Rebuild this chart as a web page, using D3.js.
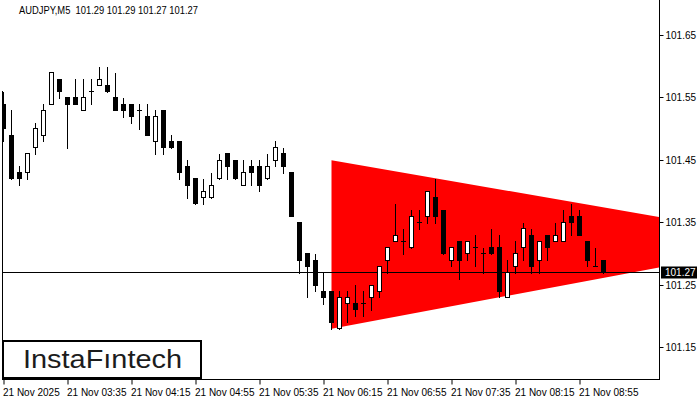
<!DOCTYPE html>
<html>
<head>
<meta charset="utf-8">
<script src="https://cdn.jsdelivr.net/npm/d3@7/dist/d3.min.js"></script>
<style>
  html, body { margin: 0; padding: 0; background: #fff; }
  svg { display: block; }
  text { font-family: "Liberation Sans", Arial, sans-serif; }
</style>
</head>
<body>
<svg id="chart" width="700" height="400"></svg>
<script>
// ---- data ----
const symbolTitle = "AUDJPY,M5  101.29 101.29 101.27 101.27";
const opens = [101.54,101.49,101.43,101.43,101.47,101.49,101.54,101.58,101.55,101.55,
  101.53,101.56,101.57,101.57,101.55,101.54,101.54,101.53,101.52,101.48,
  101.53,101.48,101.48,101.44,101.42,101.39,101.39,101.42,101.46,101.45,
  101.41,101.44,101.44,101.42,101.45,101.46,101.43,101.35,101.30,101.29,
  101.24,101.24,101.18,101.22,101.22,101.22,101.23,101.24,101.29,101.32,
  101.32,101.31,101.35,101.36,101.39,101.37,101.29,101.32,101.30,101.31,
  101.30,101.31,101.31,101.23,101.28,101.31,101.33,101.29,101.33,101.32,
  101.32,101.36,101.36,101.32,101.28,101.29];
const highs = [101.56,101.53,101.44,101.46,101.51,101.54,101.59,101.58,101.55,101.58,
  101.58,101.58,101.60,101.60,101.59,101.55,101.54,101.54,101.54,101.53,
  101.53,101.49,101.48,101.45,101.42,101.42,101.43,101.46,101.46,101.45,
  101.45,101.45,101.45,101.46,101.48,101.47,101.43,101.35,101.30,101.30,
  101.27,101.24,101.24,101.24,101.25,101.24,101.25,101.28,101.31,101.38,
  101.34,101.37,101.37,101.40,101.42,101.37,101.31,101.32,101.32,101.33,
  101.31,101.34,101.33,101.29,101.32,101.35,101.34,101.32,101.33,101.35,
  101.37,101.38,101.37,101.32,101.31,101.29];
const lows = [101.48,101.42,101.41,101.42,101.46,101.48,101.54,101.55,101.47,101.54,
  101.53,101.54,101.57,101.56,101.53,101.52,101.51,101.50,101.49,101.46,
  101.46,101.47,101.42,101.39,101.38,101.38,101.39,101.42,101.42,101.42,
  101.41,101.41,101.40,101.42,101.44,101.43,101.36,101.27,101.23,101.24,
  101.22,101.18,101.18,101.19,101.20,101.20,101.21,101.23,101.27,101.32,
  101.30,101.31,101.34,101.35,101.35,101.30,101.28,101.26,101.29,101.28,
  101.27,101.30,101.23,101.23,101.27,101.29,101.27,101.27,101.29,101.32,
  101.32,101.33,101.33,101.28,101.28,101.27];
const closes = [101.50,101.42,101.42,101.46,101.50,101.53,101.59,101.56,101.54,101.54,
  101.55,101.56,101.58,101.56,101.53,101.53,101.52,101.53,101.49,101.52,
  101.47,101.47,101.43,101.41,101.38,101.40,101.41,101.45,101.44,101.42,
  101.43,101.43,101.41,101.44,101.47,101.44,101.36,101.29,101.28,101.25,
  101.23,101.19,101.23,101.23,101.21,101.22,101.25,101.28,101.31,101.33,
  101.32,101.36,101.35,101.40,101.36,101.30,101.31,101.29,101.32,101.31,
  101.30,101.30,101.24,101.27,101.30,101.34,101.28,101.32,101.31,101.33,
  101.35,101.35,101.33,101.29,101.28,101.27];
const timeTickIdx = [0, 8, 16, 24, 32, 40, 48, 56, 64, 72];
const timeLabels = ["21 Nov 2025","21 Nov 03:35","21 Nov 04:15","21 Nov 04:55","21 Nov 05:35",
  "21 Nov 06:15","21 Nov 06:55","21 Nov 07:35","21 Nov 08:15","21 Nov 08:55"];
const priceTicks = [101.15, 101.25, 101.35, 101.45, 101.55, 101.65];
const bidPrice = 101.27;
// triangle pattern vertices (candle index, price)
const patternIdx = [41, 41, 99.5];
const patternPrice = [101.45, 101.18, 101.32];
const logoText = "InstaF\u0131ntech";

// ---- layout ----
const svg = d3.select("#chart");
const plotLeft = 2.5, plotRight = 659.5, plotBottom = 379.5;
const x = d3.scaleLinear().domain([0, 1]).range([3.5, 11.5]);
const y = d3.scaleLinear().domain([101.25, 101.35]).range([285, 222.6]);
const snap = v => Math.round(v - 0.5) + 0.5;

svg.append("defs").append("clipPath").attr("id", "plotClip")
  .append("rect").attr("x", 3).attr("y", 0).attr("width", 656).attr("height", 379);

const plot = svg.append("g").attr("clip-path", "url(#plotClip)");

// triangle
const triPts = patternIdx.map((d, i) => [x(d), y(patternPrice[i])]);
plot.append("path")
  .attr("d", d3.line()(triPts) + "Z")
  .attr("fill", "#ff0000");

// bid line
plot.append("line")
  .attr("x1", plotLeft).attr("x2", plotRight)
  .attr("y1", snap(y(bidPrice))).attr("y2", snap(y(bidPrice)))
  .attr("stroke", "#000").attr("stroke-width", 1);

// candles
const candles = opens.map((o, i) => ({i, o, h: highs[i], l: lows[i], c: closes[i]}));
const cg = plot.append("g");
candles.forEach(d => {
  const cx = x(d.i);
  cg.append("line")
    .attr("x1", cx).attr("x2", cx)
    .attr("y1", Math.round(y(d.h))).attr("y2", Math.round(y(d.l)) + 1)
    .attr("stroke", "#000").attr("stroke-width", 1);
  const top = snap(y(Math.max(d.o, d.c)));
  const bot = snap(y(Math.min(d.o, d.c)));
  if (Math.abs(bot - top) < 1) {
    cg.append("line")
      .attr("x1", cx - 2.5).attr("x2", cx + 2.5)
      .attr("y1", top).attr("y2", top)
      .attr("stroke", "#000").attr("stroke-width", 1);
  } else {
    cg.append("rect")
      .attr("x", cx - 2).attr("width", 4)
      .attr("y", top).attr("height", bot - top)
      .attr("fill", d.c >= d.o ? "#fff" : "#000")
      .attr("stroke", "#000").attr("stroke-width", 1);
  }
});

// frame
svg.append("line").attr("x1", plotRight).attr("x2", plotRight).attr("y1", 0).attr("y2", plotBottom)
  .attr("stroke", "#000");
svg.append("line").attr("x1", 2).attr("x2", plotRight + 0.5).attr("y1", plotBottom).attr("y2", plotBottom)
  .attr("stroke", "#000");
svg.append("line").attr("x1", plotLeft).attr("x2", plotLeft).attr("y1", 91).attr("y2", plotBottom)
  .attr("stroke", "#000");

// y axis
const yAxis = svg.append("g").attr("transform", `translate(${plotRight},0)`)
  .call(d3.axisRight(y).tickValues(priceTicks).tickFormat(d3.format(".2f")).tickSize(4).tickSizeOuter(0).tickPadding(2));
yAxis.select(".domain").remove();
yAxis.selectAll(".tick line").attr("stroke", "#000");
yAxis.selectAll(".tick").attr("transform", d => `translate(0,${snap(y(d))})`);
yAxis.selectAll("text").attr("font-size", 10).attr("fill", "#000")
  .attr("font-family", "Liberation Sans, Arial, sans-serif");

// x axis
const xAxis = svg.append("g").attr("transform", `translate(0,${plotBottom})`)
  .call(d3.axisBottom(x).tickValues(timeTickIdx).tickFormat((d, i) => timeLabels[i]).tickSize(5).tickSizeOuter(0));
xAxis.select(".domain").remove();
xAxis.selectAll(".tick line").attr("stroke", "#000");
xAxis.selectAll("text").attr("font-size", 10).attr("fill", "#000")
  .attr("text-anchor", "start").attr("x", -1).attr("y", 9)
  .attr("font-family", "Liberation Sans, Arial, sans-serif");

// bid price label
const by = snap(y(bidPrice));
svg.append("rect").attr("x", 661).attr("y", by - 6).attr("width", 36).attr("height", 12).attr("fill", "#000");
svg.append("text").attr("x", 665).attr("y", by).attr("dy", "0.35em")
  .attr("font-size", 10).attr("fill", "#fff").text(d3.format(".2f")(bidPrice));

// title
svg.append("text").attr("x", 19).attr("y", 14).attr("font-size", 10).attr("fill", "#000")
  .attr("textLength", 179).attr("lengthAdjust", "spacingAndGlyphs")
  .style("white-space", "pre").text(symbolTitle);

// logo
svg.append("rect").attr("x", 3).attr("y", 341).attr("width", 198).attr("height", 37)
  .attr("fill", "#fff").attr("stroke", "#000").attr("stroke-width", 2);
svg.append("text").attr("x", 23).attr("y", 368)
  .attr("font-family", "Lato, Inter, sans-serif").attr("font-size", 25).attr("fill", "#1c1c1c")
  .attr("textLength", 159).attr("lengthAdjust", "spacingAndGlyphs")
  .text(logoText);
</script>
</body>
</html>
